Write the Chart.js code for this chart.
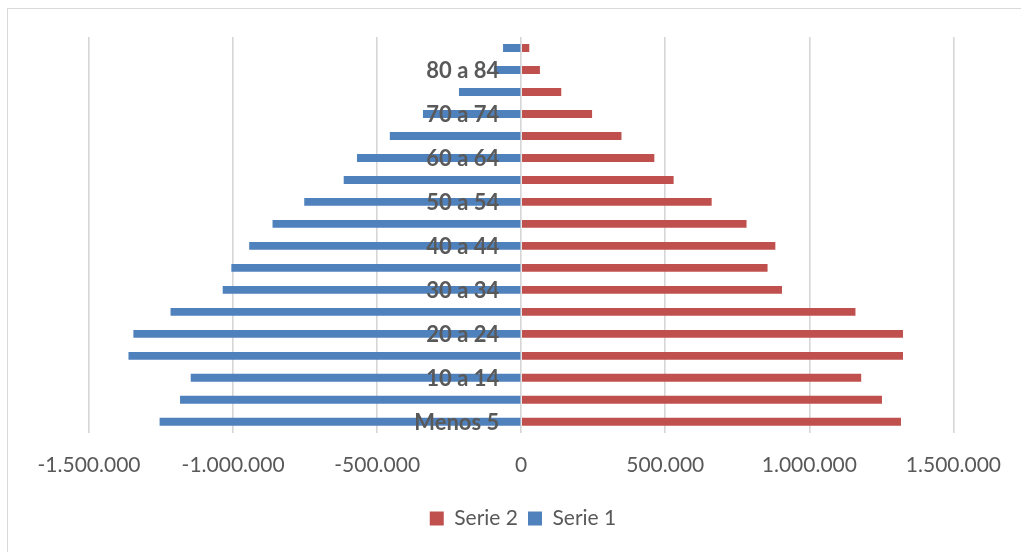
<!DOCTYPE html>
<html lang="es">
<head>
<meta charset="utf-8">
<title>Pirámide de población</title>
<script src="https://cdn.jsdelivr.net/npm/chart.js@4.4.1/dist/chart.umd.min.js"></script>
<style>
  html, body { margin: 0; padding: 0; background: #ffffff; }
  #wrap { position: relative; width: 1021px; height: 552px; }
  canvas { display: block; }
</style>
</head>
<body>
<div id="wrap"><canvas id="piramide" width="1021" height="552"></canvas></div>
<script>
// Grupos de edad, de abajo hacia arriba
const grupos = [
  'Menos 5', '5 a 9', '10 a 14', '15 a 19', '20 a 24', '25 a 29',
  '30 a 34', '35 a 39', '40 a 44', '45 a 49', '50 a 54', '55 a 59',
  '60 a 64', '65 a 69', '70 a 74', '75 a 79', '80 a 84', '85 y más'
];

// Serie 1 se dibuja hacia la izquierda (valores negativos)
const serie1 = [
  -1255000, -1184000, -1147000, -1363000, -1346000, -1217000,
  -1036000, -1006000, -944000, -863000, -753000, -616000,
  -570000, -456000, -341000, -216000, -95000, -63000
];

// Serie 2 se dibuja hacia la derecha
const serie2 = [
  1318000, 1252000, 1180000, 1325000, 1325000, 1160000,
  905000, 855000, 882000, 782000, 661000, 529000,
  462000, 348000, 246000, 139000, 65000, 28000
];

// Marcas del eje horizontal
const ticksX = [-1500000, -1000000, -500000, 0, 500000, 1000000, 1500000];

const fuente = "Lato, 'Open Sans', 'Liberation Sans', sans-serif";
const gris = '#595959';

// Separador de miles con punto
function miles(v) {
  const s = String(Math.abs(Math.round(v))).replace(/\B(?=(\d{3})+(?!\d))/g, '.');
  return (v < 0 ? '-' : '') + s;
}

// Marco fino alrededor del gráfico
const marco = {
  id: 'marco',
  beforeDraw(chart) {
    const ctx = chart.ctx;
    ctx.save();
    ctx.strokeStyle = '#d9d9d9';
    ctx.lineWidth = 1;
    ctx.strokeRect(7.5, 8.5, chart.width + 20, chart.height + 20);
    ctx.restore();
  }
};

// Etiquetas de los grupos de edad junto al eje del cero, sobre las barras
const etiquetasEdad = {
  id: 'etiquetasEdad',
  afterDatasetsDraw(chart) {
    const ctx = chart.ctx;
    const sx = chart.scales.x;
    const sy = chart.scales.y;
    const xCero = sx.getPixelForValue(0);
    ctx.save();
    ctx.font = "bold 22px " + fuente;
    ctx.fillStyle = gris;
    ctx.textAlign = 'right';
    ctx.textBaseline = 'middle';
    grupos.forEach((g, i) => {
      if (i % 2 !== 0) return;
      ctx.fillText(g, xCero - 22, sy.getPixelForValue(i) + 1);
    });
    ctx.restore();
  }
};

new Chart(document.getElementById('piramide'), {
  type: 'bar',
  data: {
    labels: grupos,
    datasets: [
      {
        label: 'Serie 2',
        data: serie2,
        backgroundColor: '#c0504d',
        barPercentage: 0.36,
        categoryPercentage: 1
      },
      {
        label: 'Serie 1',
        data: serie1,
        backgroundColor: '#4f81bd',
        barPercentage: 0.36,
        categoryPercentage: 1
      }
    ]
  },
  options: {
    indexAxis: 'y',
    responsive: false,
    animation: false,
    devicePixelRatio: 1,
    layout: { padding: { left: 89, right: 64, top: 37, bottom: 13 } },
    scales: {
      x: {
        stacked: true,
        min: ticksX[0],
        max: ticksX[ticksX.length - 1],
        afterBuildTicks(scale) {
          scale.ticks = ticksX.map(v => ({ value: v }));
        },
        grid: { color: '#d6d6d6', lineWidth: 1.6, drawTicks: false },
        border: { display: false },
        ticks: {
          padding: 20,
          color: gris,
          font: { family: fuente, size: 21 },
          callback: v => miles(v),
          maxRotation: 0
        }
      },
      y: {
        stacked: true,
        reverse: true,
        position: { x: 0 },
        grid: { display: false, drawTicks: false },
        border: { display: false },
        ticks: { display: false }
      }
    },
    plugins: {
      legend: {
        position: 'bottom',
        labels: {
          boxWidth: 14,
          boxHeight: 14,
          padding: 10,
          color: gris,
          font: { family: fuente, size: 21 }
        }
      },
      tooltip: { enabled: false }
    }
  },
  plugins: [marco, etiquetasEdad]
});
</script>
</body>
</html>
